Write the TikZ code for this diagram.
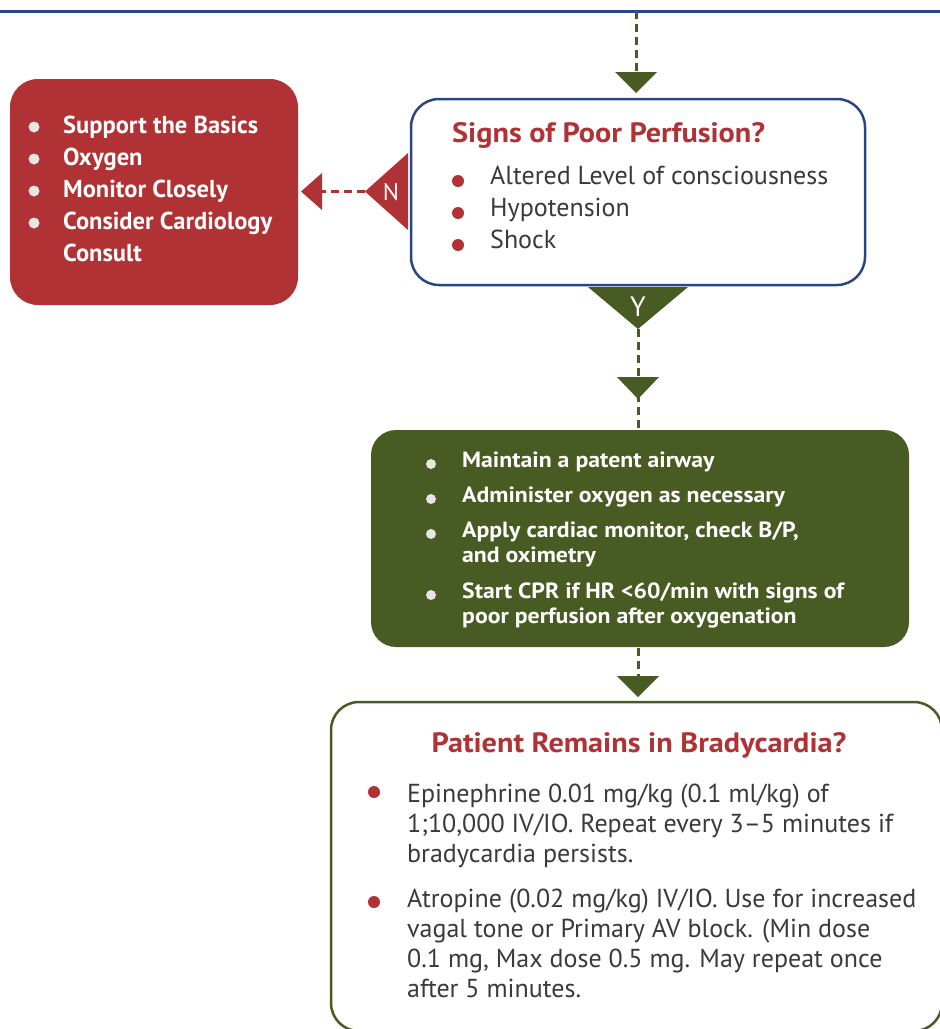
\documentclass[tikz,border=0pt]{standalone}
\usepackage{fontspec}
\setmainfont{PT Sans}
\newfontfamily\widesans[FakeStretch=1.08]{PT Sans}
\usepackage{tikz}
\usetikzlibrary{positioning}

\definecolor{flowred}{HTML}{B03234}
\definecolor{flowgreen}{HTML}{485B22}
\definecolor{flowblue}{HTML}{2A4682}
\definecolor{flowtext}{HTML}{3A3A3A}
\definecolor{dotgray}{HTML}{E6E6E6}

\begin{document}
\begin{tikzpicture}[x=1pt,y=-1pt]
    \tikzstyle{box}=[rounded corners=28pt, line width=2.5pt, inner sep=0pt]
    \tikzstyle{txt}=[anchor=base west, inner sep=0pt]
    \tikzstyle{body}=[txt, text=flowtext, font=\fontsize{26}{26}\selectfont]
    \tikzstyle{head}=[inner sep=0pt, text=flowred, font=\widesans\fontsize{28}{28}\selectfont\bfseries]
    \tikzstyle{redbold}=[txt, text=white, font=\fontsize{24.5}{24.5}\selectfont\bfseries]
    \tikzstyle{greenbold}=[txt, text=white, font=\widesans\fontsize{22}{22}\selectfont\bfseries]
    \tikzstyle{dot}=[circle, inner sep=0pt, minimum size=12pt]
    \tikzstyle{flow}=[line width=3pt, dash pattern=on 8pt off 5pt]
    \tikzstyle{answer}=[inner sep=0pt, text=white]

    \useasboundingbox (0,0) rectangle (940,1029);
    \clip (0,0) rectangle (940,1029);

    \coordinate (ruleL) at (0,11);
    \coordinate (ruleR) at (940,11);
    \coordinate (ruleC) at (636,11);
    \draw[flowblue, line width=3pt] (ruleL) -- (ruleR);

    % boxes
    \node[box, draw=flowblue, fill=white, minimum width=454pt, minimum height=186pt] (signs) at (638,192) {};
    \node[box, fill=flowred, minimum width=288pt, minimum height=226pt] (basics) at (154,192) {};
    \node[box, fill=flowgreen, rounded corners=25pt, minimum width=538pt, minimum height=217pt] (airway) at (640,538.5) {};
    \node[box, draw=flowgreen, fill=white, minimum width=611pt, minimum height=329pt] (remains) at (636.5,866.5) {};

    % arrow heads
    \coordinate (t1) at (636,72);
    \coordinate (ytri) at (638,287);
    \coordinate (ytip) at (638,329);
    \coordinate (t2) at (638,377);
    \coordinate (t3) at (638,676);
    \coordinate (ntri) at (408,191.5);
    \coordinate (ntip) at (365,191.5);
    \coordinate (narrow) at (322,191.5);

    \draw[flow, flowgreen] (ruleC) -- (t1);
    \draw[flow, flowgreen] (ytip) -- (ytip |- airway.north);
    \draw[flow, flowgreen] (t3 |- airway.south) -- (t3);
    \draw[flow, flowred] (ntip) -- (narrow);

    \fill[flowgreen] (t1) ++(-21,0) -- ++(42,0) -- ++(-21,21) -- cycle;
    \fill[flowgreen] (ytri) ++(-50,0) -- ++(100,0) -- (ytip) -- cycle;
    \fill[flowgreen] (t2) ++(-21,0) -- ++(42,0) -- ++(-21,22) -- cycle;
    \fill[flowgreen] (t3) ++(-21,0) -- ++(42,0) -- ++(-21,21) -- cycle;
    \fill[flowred] (ntri) ++(0,-38.5) -- ++(0,77) -- (ntip) -- cycle;
    \fill[flowred] (narrow) ++(0,-18.5) -- ++(0,37) -- ++(-21,-18.5) -- cycle;

    \node[answer, font=\fontsize{28}{28}\selectfont] (yes) at (638,307) {Y};
    \node[answer, font=\fontsize{24}{24}\selectfont] (no) at (391,192) {N};

    % signs of poor perfusion
    \node[head, anchor=base west] (signshead) at (452,142) {Signs of Poor Perfusion?};
    \foreach \txt [count=\i] in {Altered Level of consciousness, Hypotension, Shock} {
        \node[dot, fill=flowred] (sd\i) at (458,149+32*\i) {};
        \node[body] (sl\i) at (490,152+32*\i) {\txt};
    }

    % basics
    \foreach \txt [count=\i] in {Support the Basics, Oxygen, Monitor Closely, Consider Cardiology, Consult}
        \node[redbold] (bl\i) at (63,101+32*\i) {\txt};
    \foreach \i in {1,...,4}
        \node[dot, fill=dotgray, minimum size=11pt] (bd\i) at (34,95+32*\i) {};

    % airway
    \foreach \y/\txt [count=\i] in {467/{Maintain a patent airway}, 502/{Administer oxygen as necessary},
            537/{Apply cardiac monitor, check B/P,}, 562/{and oximetry},
            598/{Start CPR if HR <60/min with signs of}, 623/{poor perfusion after oxygenation}}
        \node[greenbold] (al\i) at (462,\y) {\txt};
    \foreach \y [count=\i] in {464, 499, 534, 595}
        \node[dot, fill=dotgray, minimum size=10pt] (ad\i) at (431,\y) {};

    % remains in bradycardia
    \node[head, anchor=base] (remhead) at (639,752) {Patient Remains in Bradycardia?};
    \foreach \y/\txt [count=\i] in {802/{Epinephrine 0.01 mg/kg (0.1 ml/kg) of},
            832/{1;10,000 IV/IO. Repeat every 3--5 minutes if}, 862/{bradycardia persists.},
            907/{Atropine (0.02 mg/kg) IV/IO. Use for increased}, 937/{vagal tone or Primary AV block. (Min dose},
            967/{0.1 mg, Max dose 0.5 mg. May repeat once}, 997/{after 5 minutes.}}
        \node[body] (rl\i) at (407,\y) {\txt};
    \foreach \y [count=\i] in {792, 902}
        \node[dot, fill=flowred] (rd\i) at (374,\y) {};
\end{tikzpicture}
\end{document}
